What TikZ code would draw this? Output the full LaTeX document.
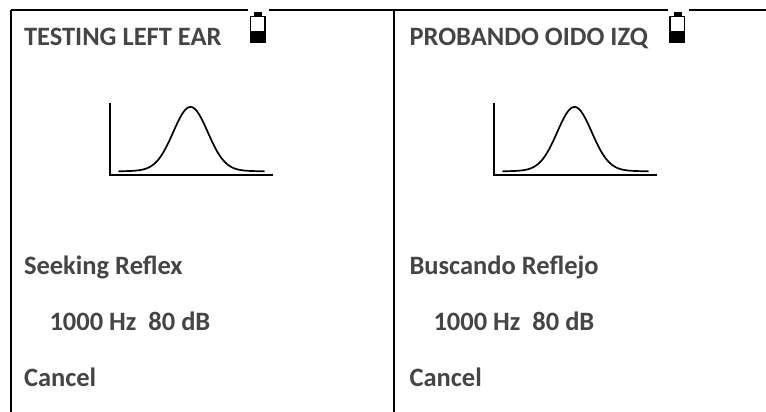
\documentclass[tikz,border=0pt]{standalone}
\usepackage{fontspec}
\setmainfont{Carlito}
\definecolor{txt}{HTML}{454545}
\tikzset{
  lbl/.style={anchor=base west,inner sep=0pt,outer sep=0pt,text=txt,font=\fontsize{26.5}{30}\selectfont\bfseries},
  rule/.style={line width=2pt,black},
  axis/.style={line width=1.3pt,black},
  bell/.style={line width=1.7pt,black,line cap=round},
}
\begin{document}
\begin{tikzpicture}[x=1pt,y=-1pt]
\useasboundingbox (0,0) rectangle (766,412);
\fill[white] (0,0) rectangle (766,412);
% table rules
\coordinate (tl) at (10.5,10);
\coordinate (tr) at (766,10);
\coordinate (bl) at (10.5,412);
\coordinate (tm) at (394,10);
\coordinate (bm) at (394,412);
\draw[rule] (tl) -- (tr);
\draw[rule] (tl) -- (bl);
\draw[rule] (tm) -- (bm);
% texts
\node[lbl] (t1) at (24,46) {TESTING LEFT EAR};
\node[lbl] (s1) at (24,274) {Seeking Reflex};
\node[lbl] (f1) at (49.5,330) {1000 Hz\hspace{0.45em}80 dB};
\node[lbl] (c1) at (24,386) {Cancel};
\node[lbl] (t2) at (409.5,46) {PROBANDO OIDO IZQ};
\node[lbl] (s2) at (409.5,274) {Buscando Reflejo};
\node[lbl] (f2) at (433.5,330) {1000 Hz\hspace{0.45em}80 dB};
\node[lbl] (c2) at (409.5,386) {Cancel};
% plots and batteries
\foreach \dx/\bx in {0/0,384/419.5}{
  \begin{scope}[xshift=\dx pt]
    \draw[axis] (110,103) -- (110,175) -- (273,175);
    \draw[bell] plot[smooth,samples=70,domain=119:264] (\x,{171.6-63.5*exp(-((\x-190.5)^2)/(2*17.2*17.2))-1.2*exp(-((\x-190.5)^2)/(2*45*45))});
  \end{scope}
  \begin{scope}[xshift=\bx pt]
    \fill[white] (248,9) rectangle (269,14);
    \fill[black] (254,12) rectangle (262,16);
    \draw[black,line width=1.9pt] (250.5,16.5) rectangle (265,42);
    \fill[black] (250,31) rectangle (265.5,43);
  \end{scope}
}
\end{tikzpicture}
\end{document}
